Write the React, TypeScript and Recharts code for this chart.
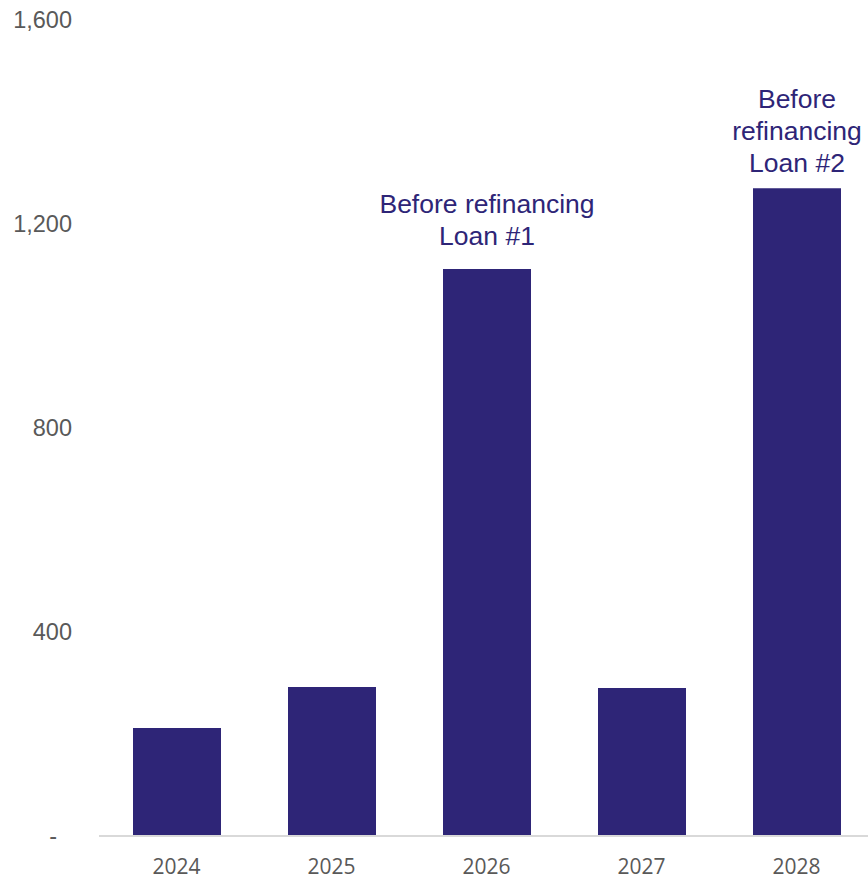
import React from 'react';
import { Bar, BarChart, LabelList, XAxis, YAxis } from 'recharts';

const years = ['2024', '2025', '2026', '2027', '2028'];
const amounts = [212, 292, 1112, 290, 1270];
const notes = [[], [], ['Before refinancing', 'Loan #1'], [], ['Before', 'refinancing', 'Loan #2']];
const yTicks = [0, 400, 800, 1200, 1600];

const data = years.map((year, i) => ({ year, value: amounts[i], note: notes[i] }));

const barColor = '#2E2577';
const tickGrey = '#595959';

function YTick(props: any) {
	const { x, y, payload } = props;
	const v = payload.value as number;
	const text = v === 0 ? '-' : v.toLocaleString('en-US');
	return (
		<text
			x={v === 0 ? x - 15 : x}
			y={y}
			dy="0.355em"
			textAnchor="end"
			fill={tickGrey}
			fontSize={23.5}
			fontFamily='"Liberation Sans", Arial, sans-serif'
		>
			{text}
		</text>
	);
}

function NoteLabel(props: any) {
	const { x, y, width, index } = props;
	const lines = notes[index] ?? [];
	if (!lines.length) return null;
	const cx = x + width / 2;
	const lineGap = 32;
	const gap = lines.length > 2 ? 16 : 24;
	const lastBaseline = y - gap;
	return (
		<text
			x={cx}
			textAnchor="middle"
			fill={barColor}
			fontSize={26.5}
			fontFamily='"Liberation Sans", Arial, sans-serif'
		>
			{lines.map((line, i) => (
				<tspan key={i} x={cx} y={lastBaseline - (lines.length - 1 - i) * lineGap}>
					{line}
				</tspan>
			))}
		</text>
	);
}

export default function App() {
	return (
		<div style={{ position: 'fixed', left: 0, top: 0, width: 868, height: 881, overflow: 'hidden', background: '#fff' }}>
			<BarChart width={880} height={881} data={data} margin={{ top: 20, right: 6, bottom: 0, left: 0 }}>
				<XAxis
					dataKey="year"
					axisLine={{ stroke: '#D9D9D9', strokeWidth: 2 }}
					tickLine={false}
					tickSize={0}
					tickMargin={23}
					height={45}
					tick={{ fill: tickGrey, fontSize: 21, fontFamily: '"Open Sans", sans-serif' }}
				/>
				<YAxis
					domain={[0, 1600]}
					ticks={yTicks}
					axisLine={false}
					tickLine={false}
					tickSize={0}
					tickMargin={27}
					width={99}
					tick={<YTick />}
				/>
				<Bar dataKey="value" fill={barColor} barSize={88} isAnimationActive={false}>
					<LabelList dataKey="value" content={<NoteLabel />} />
				</Bar>
			</BarChart>
		</div>
	);
}
